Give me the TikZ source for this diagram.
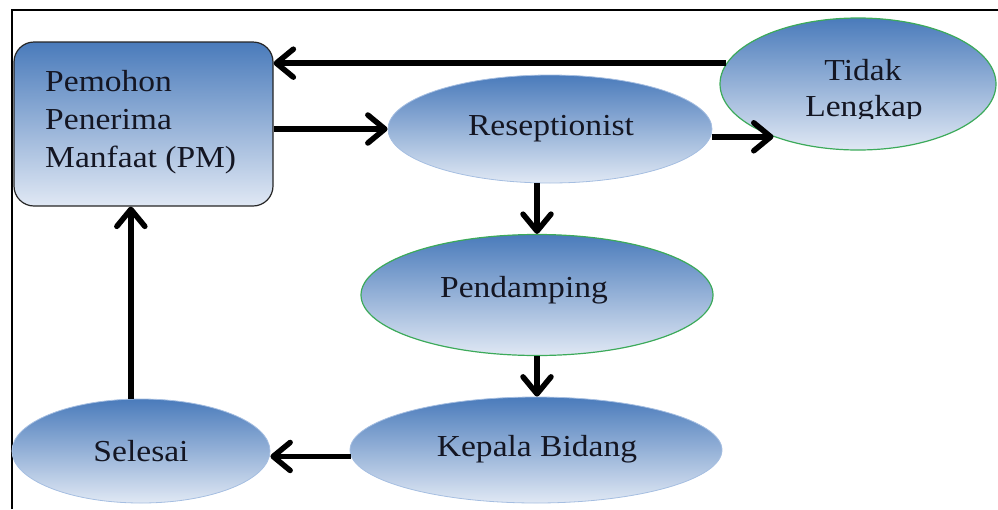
\documentclass[tikz,border=0pt]{standalone}
\usepackage{fontspec}
\setmainfont{Liberation Serif}[FakeStretch=1.1]
\usetikzlibrary{shapes.geometric,arrows.meta,calc}
\definecolor{topblue}{RGB}{74,123,187}
\definecolor{botblue}{RGB}{224,232,244}
\definecolor{edgegreen}{RGB}{60,170,90}
\definecolor{edgeblue}{RGB}{165,190,225}
\definecolor{txt}{RGB}{20,22,35}
\begin{document}
\begin{tikzpicture}[x=1pt,y=-1pt,
  shadeblue/.style={top color=topblue,bottom color=botblue},
  oval/.style={ellipse, shadeblue, draw=edgeblue, line width=0.8pt, inner sep=0pt},
  greenoval/.style={oval, draw=edgegreen, line width=1.2pt},
  lbl/.style={font=\fontsize{30.5}{36}\selectfont, text=txt, inner sep=0pt, anchor=base},
  arr/.style={line width=5.5pt, -{Straight Barb[length=17pt,width=28pt,line cap=round,line join=round]}}]
\useasboundingbox (0,0) rectangle (998,509);
\draw[line width=1.5pt] (12,509) -- (12,10) -- (998,10);

\node[shadeblue, draw=black!85, line width=1.2pt, rounded corners=20pt,
      minimum width=259pt, minimum height=164pt, inner sep=0pt] (PM) at (143.5,124) {};
\node[oval, minimum width=324pt, minimum height=108pt] (R) at (550,129) {};
\node[greenoval, minimum width=276pt, minimum height=132pt] (T) at (858,84) {};
\node[greenoval, minimum width=352pt, minimum height=121pt] (P) at (537,295) {};
\node[oval, minimum width=372pt, minimum height=106pt] (K) at (536,450) {};
\node[oval, minimum width=258pt, minimum height=104pt] (S) at (141,451) {};

\node[lbl, anchor=base west] (pm1) at (45,91) {Pemohon};
\node[lbl, anchor=base west] (pm2) at (45,129) {Penerima};
\node[lbl, anchor=base west] (pm3) at (45,167) {Manfaat (PM)};
\node[lbl] (tR) at (551,135) {Reseptionist};
\node[lbl] (tP) at (524,297) {Pendamping};
\node[lbl] (tK) at (537,456) {Kepala Bidang};
\node[lbl] (tS) at (141,461) {Selesai};
\node[lbl] (tT1) at (863,80) {Tidak};
\begin{scope}
  \clip (720,0) rectangle (998,118);
  \node[lbl] (tT2) at (864,116) {Lengkap};
\end{scope}

\draw[arr] (T.171) -- (T.171 -| PM.east);
\draw[arr] (PM.east |- R.west) -- (R.west);
\draw[arr] (R.east |- T.212) -- (T.212);
\draw[arr] (R.south -| P.north) -- (P.north);
\draw[arr] (P.south) -- (P.south |- K.north);
\draw[arr] (K.182) -- (K.182 -| S.east);
\draw[arr] (S.101) -- (S.101 |- PM.south);
\end{tikzpicture}
\end{document}
